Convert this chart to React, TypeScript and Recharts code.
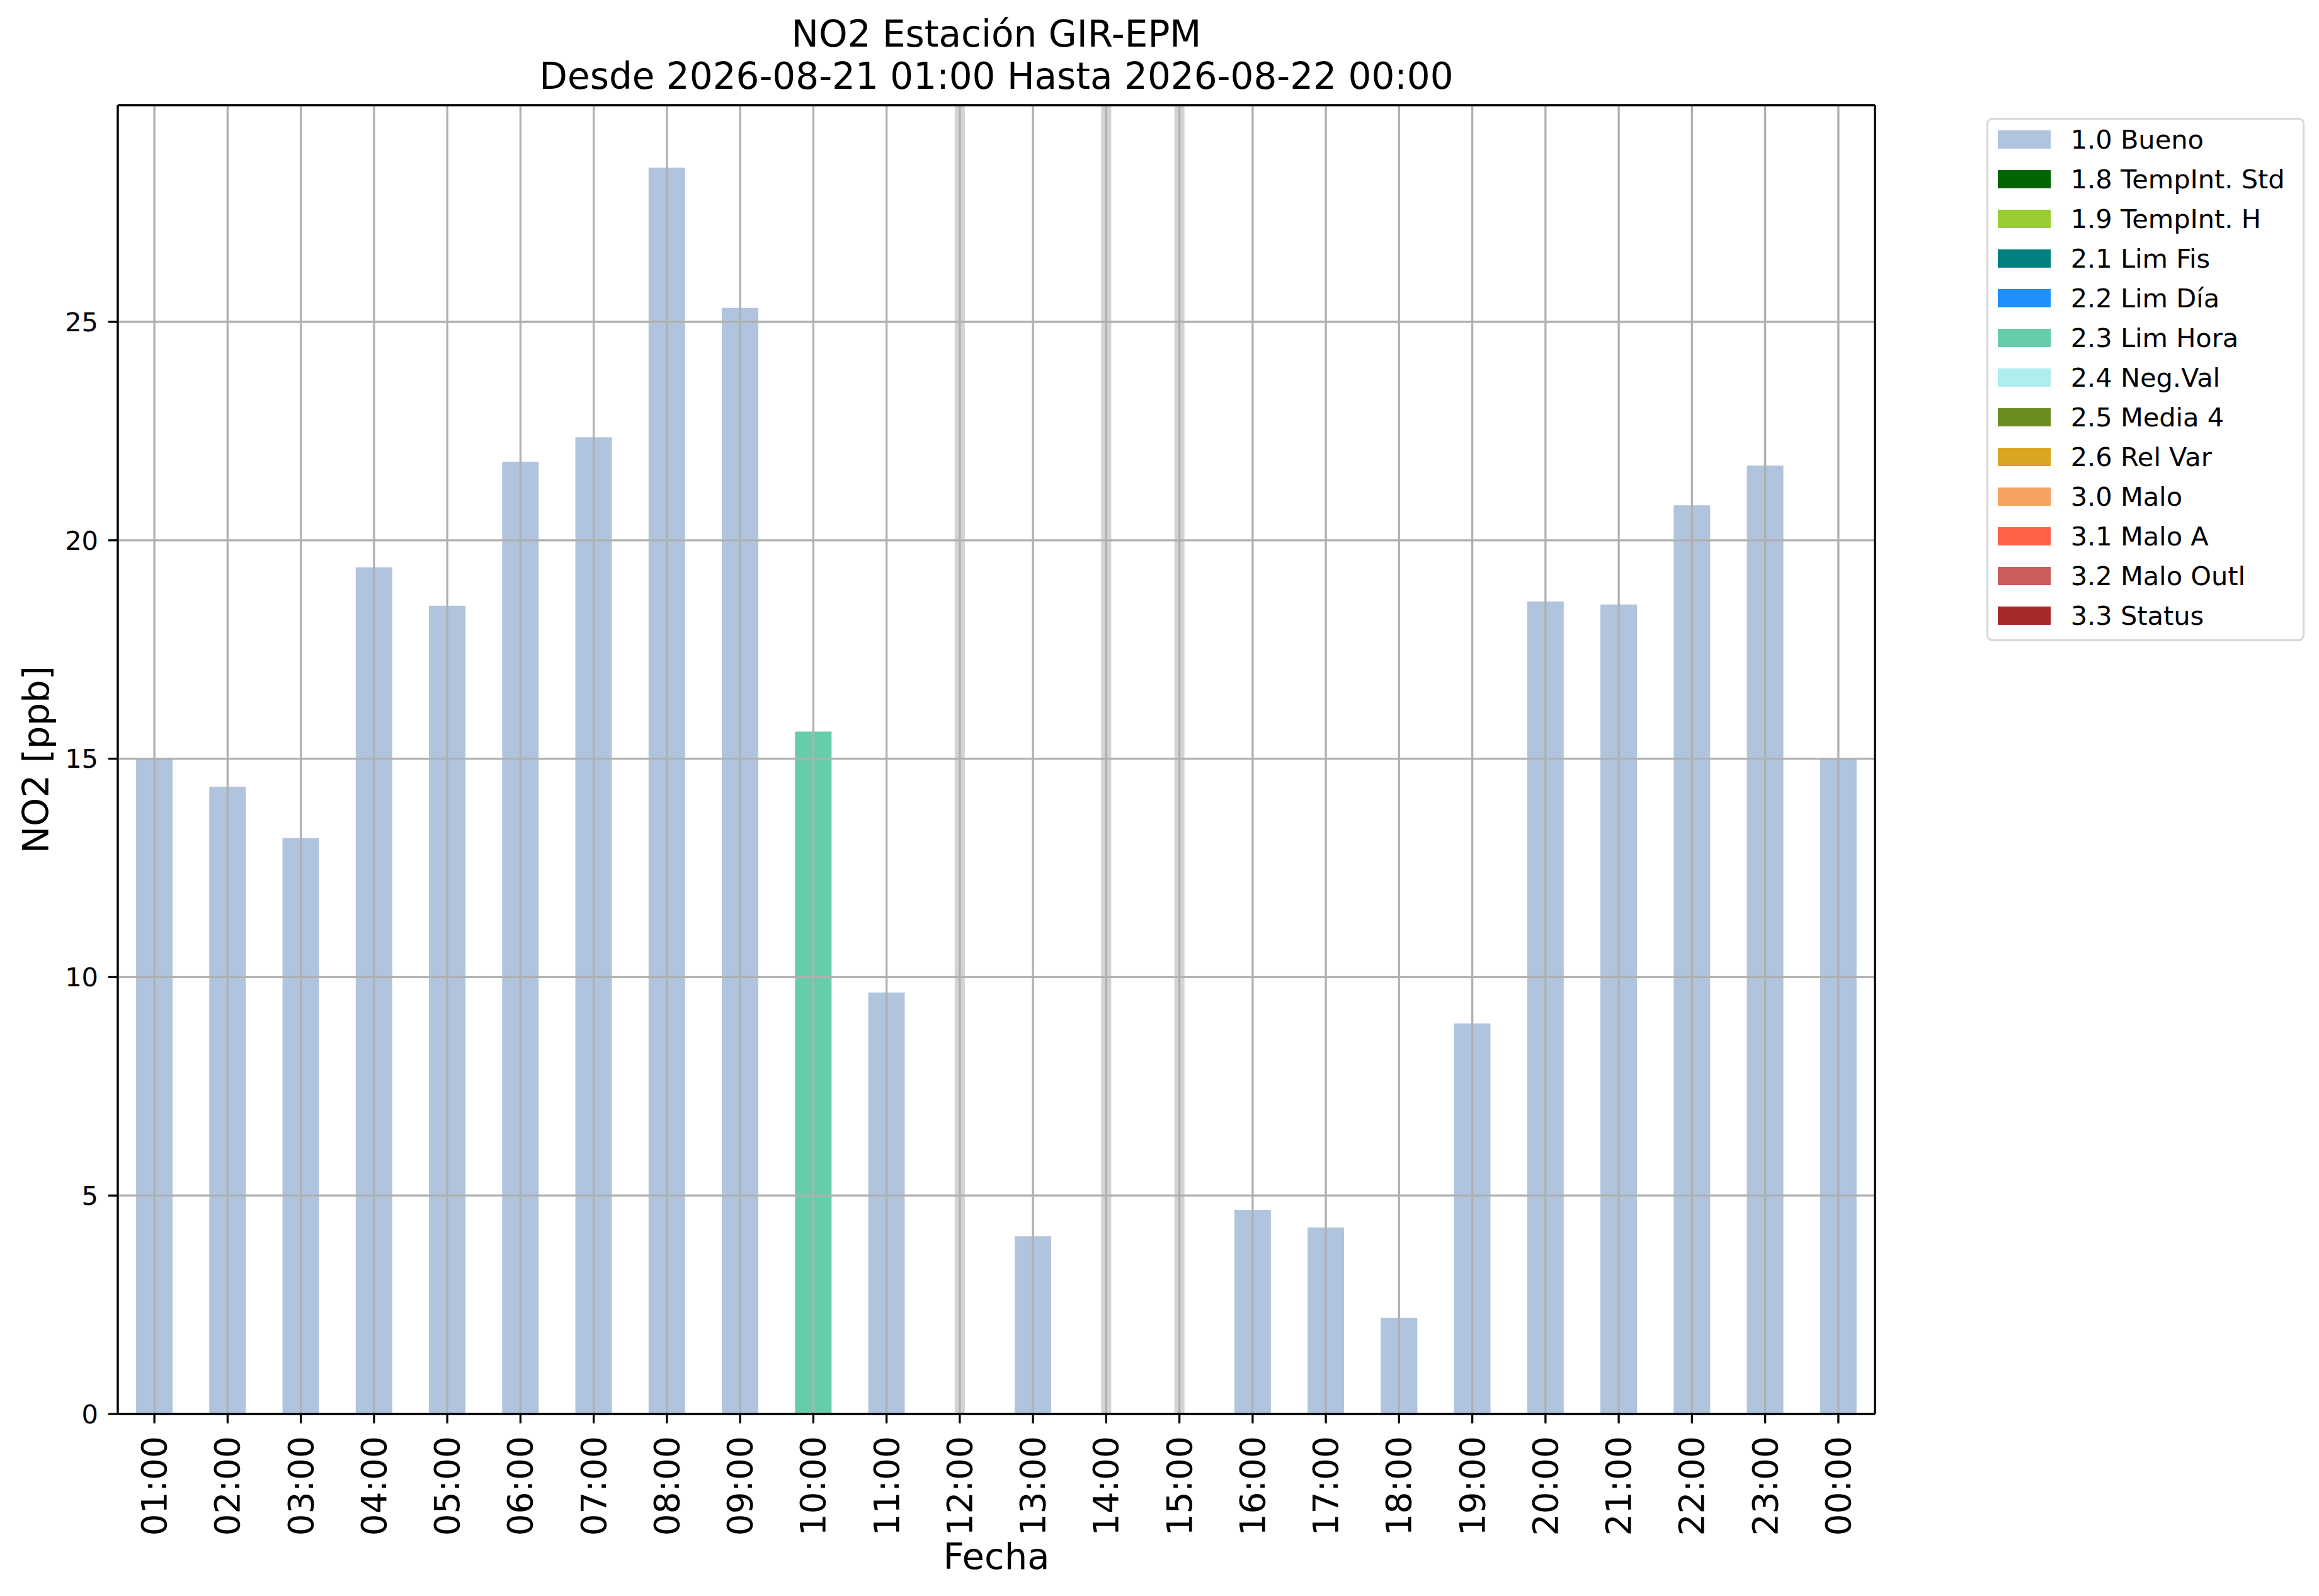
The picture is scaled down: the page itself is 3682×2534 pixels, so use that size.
import React from "react";
import {
  BarChart,
  Bar,
  XAxis,
  YAxis,
  CartesianGrid,
  Legend,
  ReferenceLine,
} from "recharts";

const hours = [
  "01:00", "02:00", "03:00", "04:00", "05:00", "06:00", "07:00", "08:00",
  "09:00", "10:00", "11:00", "12:00", "13:00", "14:00", "15:00", "16:00",
  "17:00", "18:00", "19:00", "20:00", "21:00", "22:00", "23:00", "00:00",
];

// NO2 [ppb] per flag (null = no value with that flag)
const bueno = [
  15.0, 14.36, 13.18, 19.38, 18.5, 21.8, 22.36, 28.53, 25.32, null, 9.65, null,
  4.07, null, null, 4.67, 4.27, 2.2, 8.94, 18.6, 18.53, 20.8, 21.71, 15.0,
];
const limHora = [
  null, null, null, null, null, null, null, null, null, 15.62, null, null,
  null, null, null, null, null, null, null, null, null, null, null, null,
];

const flagKeys = [
  "f10", "f18", "f19", "f21", "f22", "f23", "f24", "f25", "f26", "f30", "f31", "f32", "f33",
];
const flagLabels = [
  "1.0 Bueno", "1.8 TempInt. Std", "1.9 TempInt. H", "2.1 Lim Fis", "2.2 Lim Día",
  "2.3 Lim Hora", "2.4 Neg.Val", "2.5 Media 4", "2.6 Rel Var", "3.0 Malo",
  "3.1 Malo A", "3.2 Malo Outl", "3.3 Status",
];

const yTicks = [0, 5, 10, 15, 20, 25];
const yMax = 29.96;

const titleLines = ["NO2 Estación GIR-EPM", "Desde 2026-08-21 01:00 Hasta 2026-08-22 00:00"];

const FLAG_COLORS = [
  "#b0c4de", "#006400", "#9acd32", "#008080", "#1e90ff", "#66cdaa", "#afeeee",
  "#6b8e23", "#daa520", "#f4a460", "#ff6347", "#cd5c5c", "#a52a2a",
];

const FONT = "'DejaVu Sans', sans-serif";
const LW = 3.3;

const seriesValues: Record<string, (number | null)[]> = { f10: bueno, f23: limHora };

const data = hours.map((hour, i) => {
  const row: Record<string, any> = { hour };
  flagKeys.forEach((k) => {
    row[k] = seriesValues[k] ? seriesValues[k][i] : null;
  });
  return row;
});

const missing = data
  .filter((row) => flagKeys.every((k) => row[k] == null))
  .map((row) => row.hour);

const XTick = (props: any) => {
  const { x, y, payload } = props;
  return (
    <text
      x={x}
      y={y}
      transform={`rotate(-90, ${x}, ${y})`}
      textAnchor="end"
      dominantBaseline="central"
      fontSize={55}
      fontFamily={FONT}
      fill="#000"
    >
      {payload.value}
    </text>
  );
};

const YLabel = (props: any) => {
  const vb = props.viewBox || { x: 0, y: 167, width: 187, height: 2078 };
  const cx = vb.x + 77;
  const cy = vb.y + vb.height / 2;
  return (
    <text
      x={cx}
      y={cy}
      transform={`rotate(-90, ${cx}, ${cy})`}
      textAnchor="middle"
      fontSize={57.6}
      fontFamily={FONT}
      fill="#000"
    >
      NO2 [ppb]
    </text>
  );
};

const LegendBox = (props: any) => {
  const items =
    props.payload && props.payload.length
      ? props.payload.map((p: any) => ({ label: p.value, color: p.color }))
      : flagLabels.map((label, i) => ({ label, color: FLAG_COLORS[i] }));
  return (
    <div
      style={{
        boxSizing: "border-box",
        width: 505,
        height: 831,
        border: `${LW}px solid #d6d6d6`,
        borderRadius: 9,
        background: "#fff",
        paddingLeft: 14.7,
        paddingTop: 0,
        fontFamily: FONT,
        fontSize: 41.5,
        color: "#000",
      }}
    >
      {items.map((it: any) => (
        <div key={it.label} style={{ display: "flex", alignItems: "center", height: 63 }}>
          <div style={{ width: 84, height: 29, background: it.color, flex: "none" }} />
          <span style={{ marginLeft: 32, lineHeight: 1, whiteSpace: "nowrap" }}>{it.label}</span>
        </div>
      ))}
    </div>
  );
};

export default function App() {
  return (
    <div style={{ position: "relative", width: 3682, height: 2534, background: "#fff" }}>
      <style>{"body{margin:0;background:#fff}"}</style>
      <div
        style={{
          position: "absolute",
          left: 187,
          top: 21.4,
          width: 2790,
          textAlign: "center",
          fontFamily: FONT,
          fontSize: 58,
          lineHeight: "67px",
          color: "#000",
          whiteSpace: "nowrap",
          zIndex: 2,
        }}
      >
        {titleLines.map((t) => (
          <div key={t}>{t}</div>
        ))}
      </div>
      <BarChart
        width={3682}
        height={2534}
        data={data}
        margin={{ top: 166, right: 199, bottom: 0, left: 0 }}
        barCategoryGap="25%"
      >
        <XAxis
          dataKey="hour"
          type="category"
          interval={0}
          height={289}
          tick={<XTick />}
          tickSize={15}
          tickMargin={20}
          tickLine={{ stroke: "#000", strokeWidth: LW }}
          axisLine={{ stroke: "#000", strokeWidth: LW }}
          label={{ value: "Fecha", position: "insideBottom", offset: 43, fontSize: 57.6, fontFamily: FONT, fill: "#000" }}
        />
        <XAxis
          xAxisId="top"
          dataKey="hour"
          type="category"
          orientation="top"
          height={1}
          tick={false}
          tickLine={false}
          axisLine={{ stroke: "#000", strokeWidth: LW }}
        />
        <YAxis
          type="number"
          domain={[0, yMax]}
          ticks={yTicks}
          width={187}
          tickSize={15}
          tickMargin={16}
          tick={{ fontSize: 41.5, fontFamily: FONT, fill: "#000" }}
          tickLine={{ stroke: "#000", strokeWidth: LW }}
          axisLine={{ stroke: "#000", strokeWidth: LW }}
          label={<YLabel />}
        />
        <YAxis
          yAxisId="right"
          orientation="right"
          type="number"
          domain={[0, yMax]}
          width={1}
          tick={false}
          tickLine={false}
          axisLine={{ stroke: "#000", strokeWidth: LW }}
        />
        <Legend
          layout="vertical"
          align="right"
          verticalAlign="top"
          content={<LegendBox />}
          wrapperStyle={{ left: 3154, top: 187, right: "auto", width: 505, height: 831 }}
        />
        {flagKeys.map((k, i) => (
          <Bar
            key={k}
            dataKey={k}
            name={flagLabels[i]}
            stackId="flags"
            fill={FLAG_COLORS[i]}
            isAnimationActive={false}
          />
        ))}
        {missing.map((h) => (
          <ReferenceLine
            key={h}
            x={h}
            stroke="#d3d3d3"
            strokeWidth={16}
            ifOverflow="visible"
            {...({ zIndex: 420 } as any)}
          />
        ))}
        <CartesianGrid
          stroke="#b0b0b0"
          strokeWidth={LW}
          {...({ zIndex: 450 } as any)}
        />
      </BarChart>
    </div>
  );
}
